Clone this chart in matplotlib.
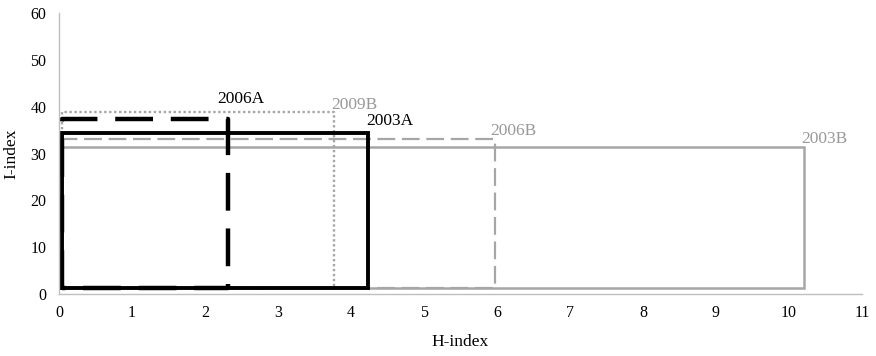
import matplotlib.pyplot as plt

# rectangles: each series spans from (h_start, i_start) to (h_index, i_index)
names = ['2003A', '2006A', '2009B', '2006B', '2003B']
h_index = [4.23, 2.32, 3.77, 5.97, 10.2]
i_index = [34.4, 37.3, 38.9, 33.2, 31.5]
h_start = 0.04
i_start = 1.3

x_ticks = list(range(0, 12))
y_ticks = list(range(0, 61, 10))

black = '#000000'
grey = '#a6a6a6'
styles = {
    '2003A': dict(color=black, lw=2.8, ls='-'),
    '2006A': dict(color=black, lw=3.2, ls=(0, (8.5, 4))),
    '2009B': dict(color=grey, lw=1.7, ls=(0, (1, 1.1))),
    '2006B': dict(color=grey, lw=1.6, ls=(0, (8, 3))),
    '2003B': dict(color=grey, lw=1.8, ls='-'),
}
# label offsets (points) from the top-right corner of each rectangle
label_offsets = {
    '2003A': (-1, 3),
    '2006A': (-8, 9),
    '2009B': (-2, -1),
    '2006B': (-3, 0),
    '2003B': (-2, 0),
}
label_colors = {'2003A': black, '2006A': black, '2009B': '#999999',
                '2006B': '#999999', '2003B': '#999999'}

plt.rcParams['font.family'] = ['Liberation Serif', 'DejaVu Serif']

fig = plt.figure(figsize=(8.76, 3.56), dpi=100)
ax = fig.add_axes([0.0674, 0.174, 0.9166, 0.789])

draw_order = ['2003B', '2006B', '2009B', '2003A', '2006A']
for name in draw_order:
    k = names.index(name)
    xs = [h_start, h_start, h_index[k], h_index[k], h_start]
    ys = [i_start, i_index[k], i_index[k], i_start, i_start]
    st = styles[name]
    ax.plot(xs, ys, color=st['color'], lw=st['lw'], linestyle=st['ls'],
            solid_joinstyle='miter', dash_capstyle='butt', clip_on=False)
    dx, dy = label_offsets[name]
    ax.annotate(name, (h_index[k], i_index[k]), xytext=(dx, dy),
                textcoords='offset points', ha='left', va='bottom',
                fontsize=12.5, color=label_colors[name])

ax.set_xlim(0, 11)
ax.set_ylim(0, 60)
ax.set_xticks(x_ticks)
ax.set_yticks(y_ticks)
ax.tick_params(length=0, labelsize=11.5, pad=8)
ax.tick_params(axis='y', pad=9)
for s in ['top', 'right']:
    ax.spines[s].set_visible(False)
for s in ['left', 'bottom']:
    ax.spines[s].set_color('#bfbfbf')
    ax.spines[s].set_linewidth(1.0)

ax.set_xlabel('H-index', fontsize=12.5, labelpad=9)
ax.set_ylabel('I-index', fontsize=12.5, labelpad=8)

fig.savefig('out.png', dpi=100)
